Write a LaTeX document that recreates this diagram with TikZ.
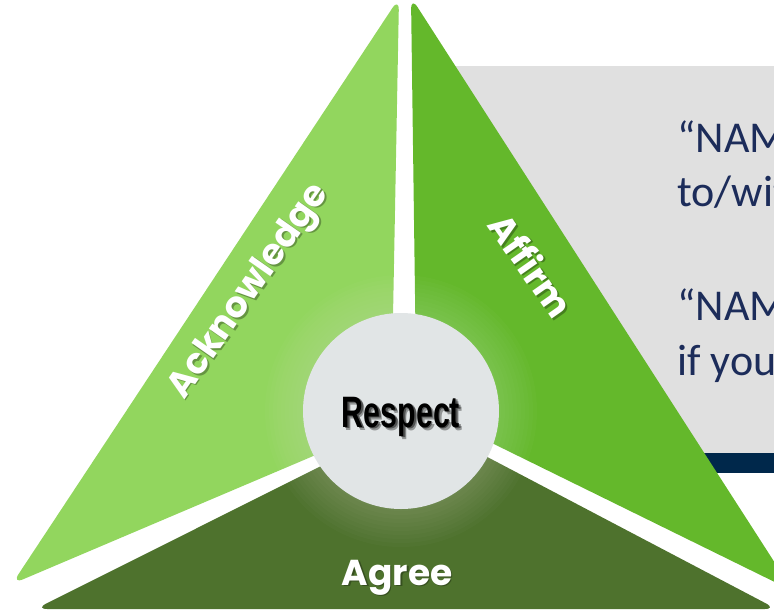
\documentclass[tikz,border=0pt]{standalone}
\usepackage{fontspec}
\setmainfont{Carlito}
\newfontfamily\popfont{Poppins}
\newfontfamily\respfont{Liberation Sans}
\usetikzlibrary{calc}
\definecolor{lgreen}{RGB}{146,214,94}
\definecolor{mgreen}{RGB}{100,184,43}
\definecolor{dgreen}{RGB}{78,114,45}
\definecolor{panelgray}{RGB}{224,224,224}
\definecolor{barnavy}{RGB}{0,40,75}
\definecolor{qnavy}{RGB}{28,44,90}
\definecolor{hubfill}{RGB}{225,229,230}
\tikzset{
  piece/.style={rounded corners=12pt},
  quote/.style={anchor=base west, text=qnavy, inner sep=0pt, font=\fontsize{44}{44}\selectfont},
  lbl/.style={text=white, inner sep=0pt, font=\popfont\bfseries\fontsize{36}{36}\selectfont},
  lblshadow/.style={text=black, opacity=0.3, inner sep=0pt, font=\popfont\bfseries\fontsize{36}{36}\selectfont},
  resp/.style={anchor=base, inner sep=0pt, font=\respfont\bfseries\fontsize{44}{44}\selectfont}
}
\begin{document}
\begin{tikzpicture}[x=1pt,y=-1pt]
\useasboundingbox (0,0) rectangle (774,611);
\clip (0,0) rectangle (774,611);
% grey panel and navy bar (left edges hidden behind the right piece)
\fill[panelgray] (440,66) -- (800,66) -- (800,453) -- (560,453) -- cycle;
\fill[barnavy] (600,453) rectangle (800,473);
% quote texts
\node[quote] (q1) at (677,152) {“NAM};
\node[quote] (q2) at (677,206) {to/wit};
\node[quote] (q3) at (677,320) {“NAM};
\node[quote] (q4) at (677,375) {if you};
% pieces
\fill[lgreen, piece] (399,-2) -- (391,423) -- (12,584) -- cycle;
\fill[mgreen, piece] (411,-3) -- (793,591) -- (416.5,406) -- cycle;
\fill[dgreen, piece] (415,419) -- (776.6,609) -- (35.4,609) -- cycle;
% halo
\foreach \r in {100,104,...,136} \fill[white, opacity=0.02] (401,411) circle (\r pt);
% hub
\node[circle, fill=hubfill, minimum size=196pt, inner sep=0pt] (hub) at (401,411) {};
\node[resp, text=black, opacity=0.35] (respsh1) at (404,430) {\scalebox{0.69}[1]{Respect}};
\node[resp, text=black, opacity=0.45] (respsh2) at (402.5,428.5) {\scalebox{0.69}[1]{Respect}};
\node[resp, text=black] (respect) at (401,427) {\scalebox{0.69}[1]{Respect}};
% labels
\node[lblshadow, rotate=55] (acksh) at (251.5,293.5) {Acknowledge};
\node[lbl, rotate=55] (ack) at (250,292) {Acknowledge};
\node[lblshadow, rotate=-55] (affsh) at (533.5,266.5) {Affirm};
\node[lbl, rotate=-55] (aff) at (532,265) {Affirm};
\node[lblshadow, anchor=base] (agrsh) at (398.5,586.5) {Agree};
\node[lbl, anchor=base] (agr) at (397,585) {Agree};
\end{tikzpicture}
\end{document}
